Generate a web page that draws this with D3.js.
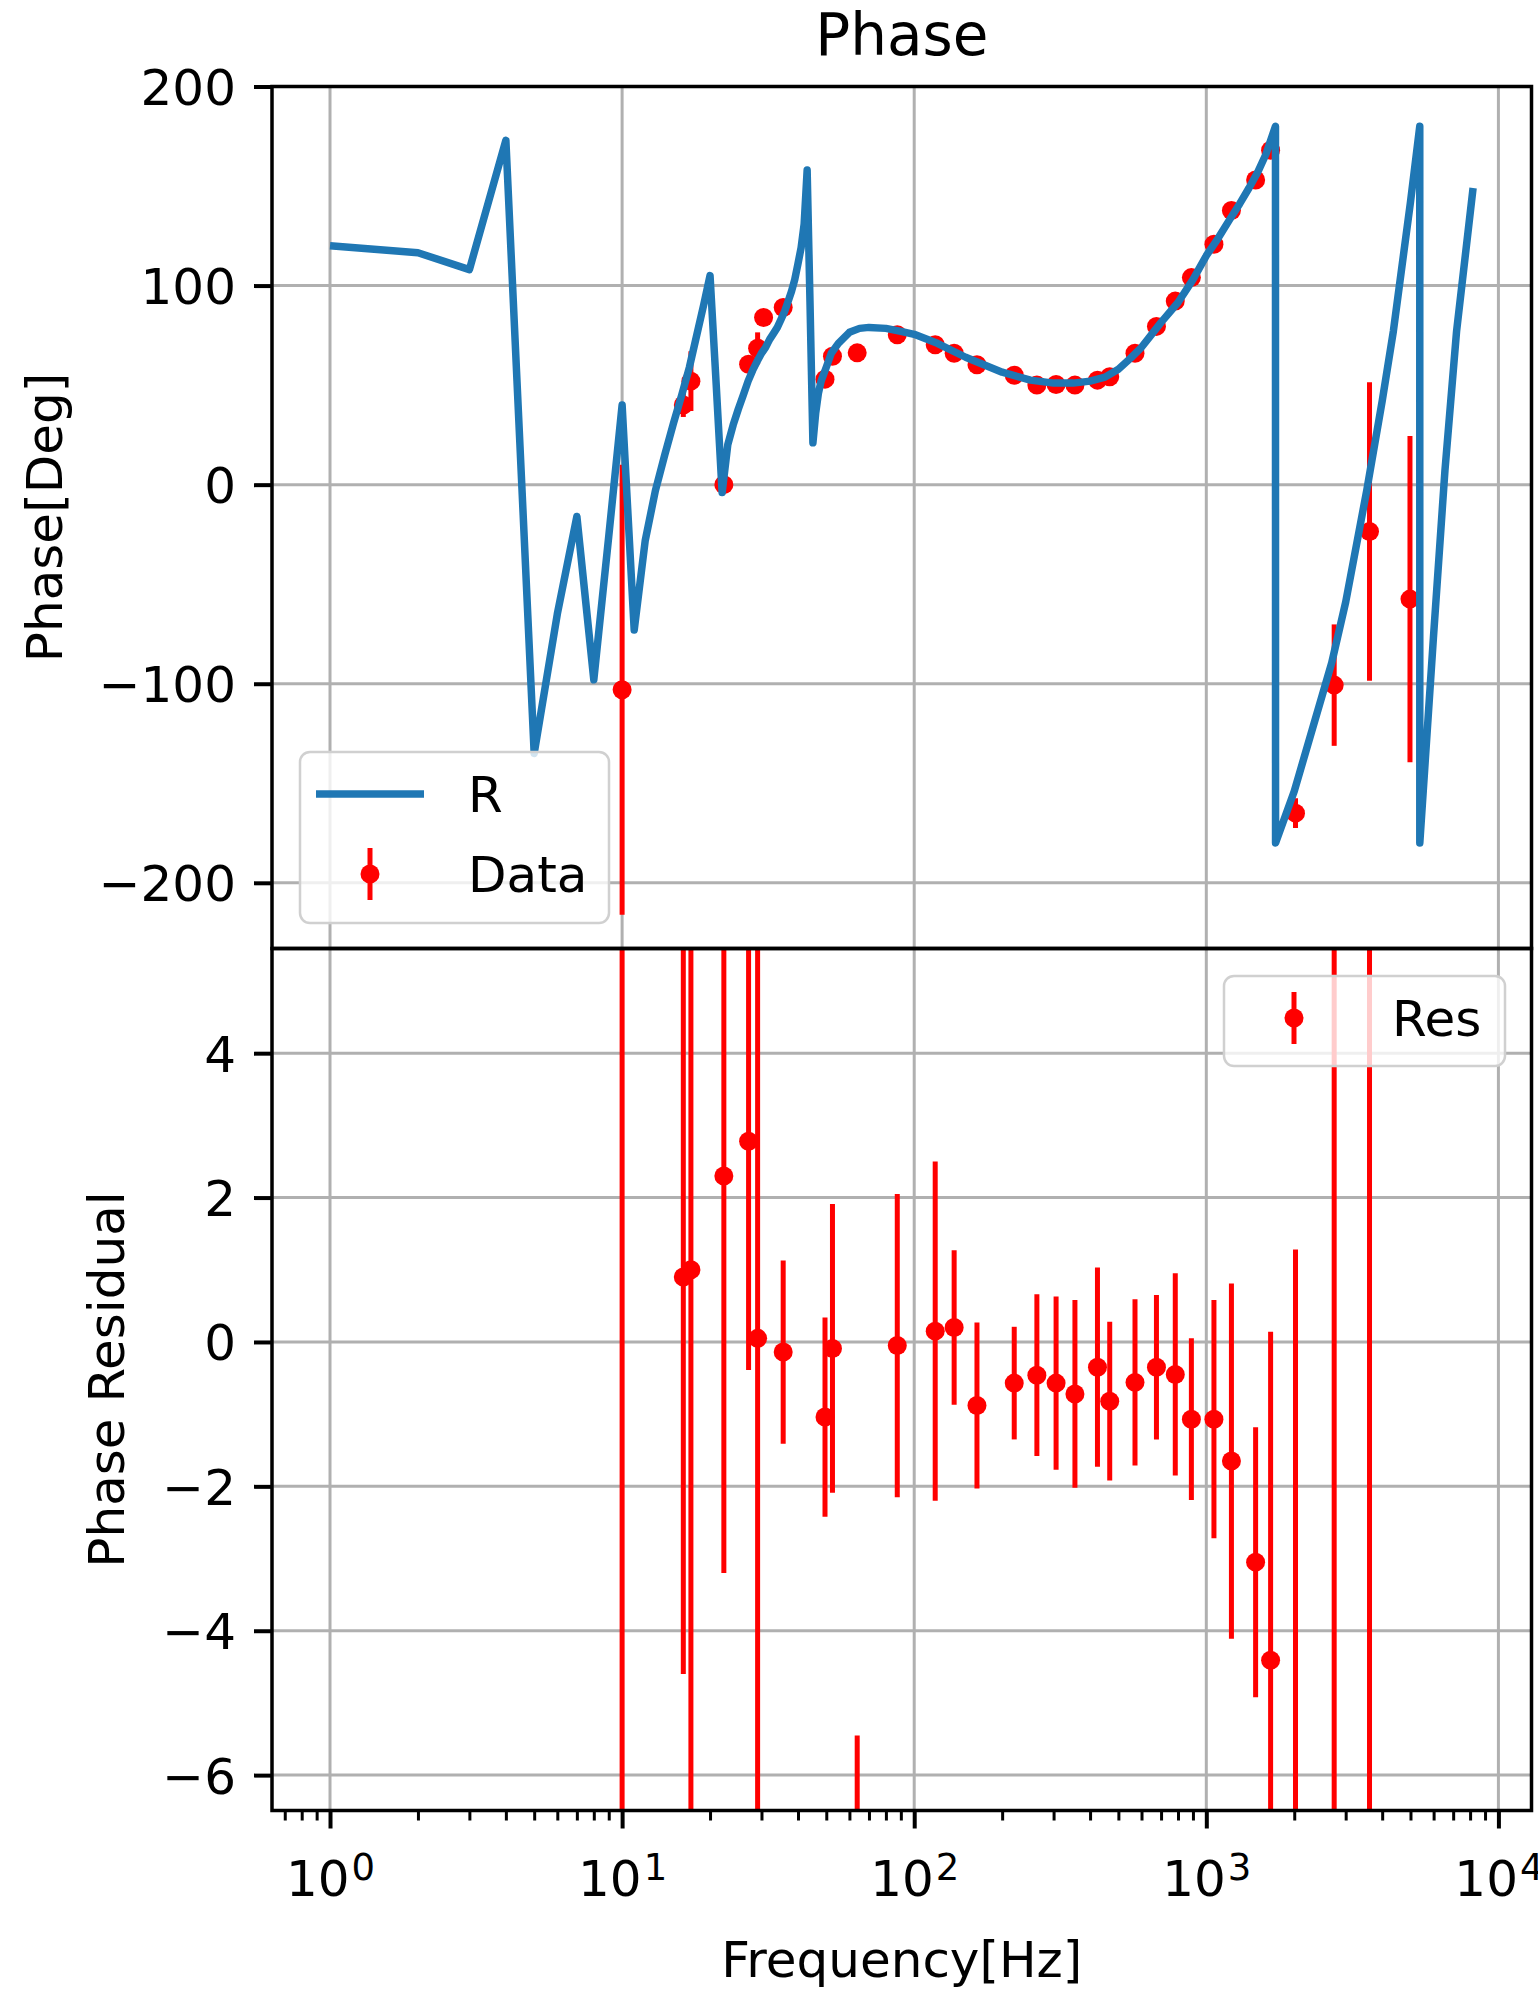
<!DOCTYPE html>
<html>
<head>
<meta charset="utf-8">
<script src="https://cdn.jsdelivr.net/npm/d3@7"></script>
<style>
    body { margin: 0; background: #fff; }
    svg text { font-family: "DejaVu Sans", sans-serif; }
</style>
</head>
<body>
<div id="phase-chart"></div>
<script>

// model curve "R" (frequency in Hz, phase in deg)
const modelFreq = [1, 2, 3, 4, 5, 6, 7, 8, 9, 10, 11, 12, 13, 14, 15, 16, 17, 18, 19, 20,
    21, 22, 23, 24, 25, 26, 27, 28, 29, 30, 31, 32, 33, 34, 35, 36, 37, 38, 39, 40,
    41, 42, 43, 44, 45, 46, 47, 48, 50, 52, 55, 60, 65, 70, 80, 90, 100, 120, 150, 200,
    250, 300, 350, 400, 450, 500, 550, 600, 650, 700, 800, 900, 1000, 1100, 1200, 1300,
    1400, 1500, 1600, 1725, 1726, 2000, 2687, 3000, 3541, 4000, 4368, 5000, 5380, 5381,
    5990, 6560, 7190, 8190];
const modelPhase = [120, 116.5, 108, 173, -135, -65, -16, -98, -26, 40, -73, -28, -3, 15, 31, 45, 59, 75, 90, 105,
    50, -4, 20, 30, 38, 45, 52, 57.5, 62, 66, 69, 73, 76, 79, 83, 87, 92, 97, 103, 111,
    119, 131, 158, 90, 21, 36, 46, 52, 59, 66, 71, 76.5, 78.5, 79, 78.5, 77, 75.5, 71, 64, 56.5,
    52.5, 51, 51, 52, 54, 58, 63.5, 69, 75.5, 81.5, 91.5, 103, 115, 124, 133, 141,
    149, 157, 166, 180, -180, -154, -89.5, -59, -3, 42, 77, 142, 180, -180,
    -77, 7, 77, 149];

// measured points (shared by both panels)
const dataFreq = [10, 16.2, 17.2, 22.3, 27.1, 29.1, 30.5, 35.6, 49.5, 52.5, 63.8, 87.5, 118, 137, 164,
    220, 263, 306, 355, 424, 467, 570, 675, 783, 889, 1062, 1219, 1475, 1660, 2020, 2740, 3620, 4980];
const dataPhase = [-103, 40, 52, 0, 60.5, 68.5, 84, 89, 53, 64.5, 66.2, 75.3, 70.3, 66, 60.2,
    55, 50, 50.3, 50, 52.5, 54.2, 66, 79.5, 92.2, 104, 120.8, 137.7, 153, 168, -165, -100.7, -23.5, -57.5];
const dataErr = [113, 6, 15, 2, 3, 8, 3, 2, 2, 2, 1.5, 1, 1, 1, 1,
    1, 1, 1, 1, 1, 1, 1, 1, 1.5, 1.5, 2, 2, 2, 2.5, 7.5, 30.5, 75, 82];

// residuals
const resValue = [-30, 0.9, 1.0, 2.3, 2.78, 0.05, 12, -0.14, -1.04, -0.09, -9.5, -0.05, 0.15, 0.2, -0.88,
    -0.57, -0.46, -0.57, -0.72, -0.35, -0.82, -0.56, -0.35, -0.45, -1.07, -1.07, -1.65, -3.05, -4.41, -12, -15, 10, 30];
const resErr = [45, 5.5, 9, 5.5, 3.17, 9, 3, 1.27, 1.38, 2.0, 4.05, 2.1, 2.35, 1.07, 1.15,
    0.78, 1.12, 1.2, 1.3, 1.38, 1.1, 1.15, 1.0, 1.4, 1.12, 1.65, 2.46, 1.87, 4.55, 13.28, 30, 30, 8];

const phaseTicks = [200, 100, 0, -100, -200];
const resTicks = [4, 2, 0, -2, -4, -6];
const decadeTicks = [1, 10, 100, 1000, 10000];

const BLUE = '#1f77b4';
const RED = '#ff0000';


class PhaseChart {

    constructor(parentElement) {
        this.parentElement = parentElement;
        this.initVis();
    }

    initVis() {
        let vis = this;

        vis.box = {left: 272, right: 1531.5, top: 86.5, mid: 948.5, bottom: 1810.5};

        vis.svg = d3.select('#' + vis.parentElement).append('svg')
            .attr('width', 1538)
            .attr('height', 1994);

        // Scales (x shared by both panels)
        vis.x = d3.scaleLog()
            .domain([0.633, 12980])
            .range([vis.box.left, vis.box.right]);

        vis.yPhase = d3.scaleLinear()
            .domain([-233, 200])
            .range([vis.box.mid, vis.box.top]);

        vis.yRes = d3.scaleLinear()
            .domain([-6.49, 5.45])
            .range([vis.box.bottom, vis.box.mid]);

        let defs = vis.svg.append('defs');
        defs.append('clipPath').attr('id', 'clip-top').append('rect')
            .attr('x', vis.box.left).attr('y', vis.box.top)
            .attr('width', vis.box.right - vis.box.left)
            .attr('height', vis.box.mid - vis.box.top);
        defs.append('clipPath').attr('id', 'clip-bot').append('rect')
            .attr('x', vis.box.left).attr('y', vis.box.mid)
            .attr('width', vis.box.right - vis.box.left)
            .attr('height', vis.box.bottom - vis.box.mid);

        vis.minorTicks = [];
        [0.1, 1, 10, 100, 1000].forEach(base => {
            for (let k = 2; k <= 9; k++) {
                let v = base * k;
                if (v > vis.x.domain()[0] && v < vis.x.domain()[1]) vis.minorTicks.push(v);
            }
        });

        vis.updateVis();
    }

    fmt(d) {
        return d < 0 ? '\u2212' + Math.abs(d) : String(d);
    }

    drawGrid(y, ticks, top, bottom) {
        let vis = this;
        let g = vis.svg.append('g').attr('class', 'grid');
        g.selectAll('.vgrid')
            .data(decadeTicks.filter(d => d >= vis.x.domain()[0] && d <= vis.x.domain()[1]))
            .enter().append('line')
            .attr('x1', d => vis.x(d)).attr('x2', d => vis.x(d))
            .attr('y1', top).attr('y2', bottom)
            .attr('stroke', '#b0b0b0').attr('stroke-width', 3);
        g.selectAll('.hgrid')
            .data(ticks)
            .enter().append('line')
            .attr('x1', vis.box.left).attr('x2', vis.box.right)
            .attr('y1', d => y(d)).attr('y2', d => y(d))
            .attr('stroke', '#b0b0b0').attr('stroke-width', 3);
    }

    drawErrorbars(y, values, errs, clipId) {
        let vis = this;
        let rows = dataFreq.map((f, i) => ({f: f, v: values[i], e: errs[i]}));
        let g = vis.svg.append('g').attr('clip-path', 'url(#' + clipId + ')');

        g.selectAll('.ebar')
            .data(rows)
            .enter().append('line')
            .attr('class', 'ebar')
            .attr('x1', d => vis.x(d.f)).attr('x2', d => vis.x(d.f))
            .attr('y1', d => y(d.v - d.e)).attr('y2', d => y(d.v + d.e))
            .attr('stroke', RED).attr('stroke-width', 5);

        g.selectAll('.dot')
            .data(rows)
            .enter().append('circle')
            .attr('class', 'dot')
            .attr('cx', d => vis.x(d.f))
            .attr('cy', d => y(d.v))
            .attr('r', 9.5)
            .attr('fill', RED);
    }

    drawYAxis(y, ticks) {
        let vis = this;
        let axis = d3.axisLeft(y)
            .tickValues(ticks)
            .tickSize(18)
            .tickPadding(18)
            .tickFormat(d => vis.fmt(d));
        let g = vis.svg.append('g')
            .attr('transform', 'translate(' + vis.box.left + ',0)')
            .call(axis);
        g.select('.domain').remove();
        g.selectAll('.tick line').attr('stroke', '#000').attr('stroke-width', 4);
        g.selectAll('.tick text')
            .attr('fill', '#000')
            .attr('font-size', 50)
            .attr('font-family', '"DejaVu Sans", sans-serif')
            .attr('dy', '0.36em');
    }

    drawFrame(top, bottom) {
        let vis = this;
        vis.svg.append('rect')
            .attr('x', vis.box.left).attr('y', top)
            .attr('width', vis.box.right - vis.box.left)
            .attr('height', bottom - top)
            .attr('fill', 'none')
            .attr('stroke', '#000')
            .attr('stroke-width', 3.5);
    }

    drawLegend(x0, y0, w, h, entries) {
        let vis = this;
        let g = vis.svg.append('g').attr('class', 'legend');
        g.append('rect')
            .attr('x', x0).attr('y', y0)
            .attr('width', w).attr('height', h)
            .attr('rx', 10).attr('ry', 10)
            .attr('fill', '#fff').attr('fill-opacity', 0.8)
            .attr('stroke', '#d0d0d0').attr('stroke-width', 2.5);

        entries.forEach((e, i) => {
            let cy = y0 + 42 + i * 80;
            if (e.type === 'line') {
                g.append('line')
                    .attr('x1', x0 + 16).attr('x2', x0 + 124)
                    .attr('y1', cy).attr('y2', cy)
                    .attr('stroke', BLUE).attr('stroke-width', 7.5);
            } else {
                g.append('line')
                    .attr('x1', x0 + 70).attr('x2', x0 + 70)
                    .attr('y1', cy - 26).attr('y2', cy + 26)
                    .attr('stroke', RED).attr('stroke-width', 5);
                g.append('circle')
                    .attr('cx', x0 + 70).attr('cy', cy)
                    .attr('r', 9.5).attr('fill', RED);
            }
            g.append('text')
                .attr('x', x0 + 168).attr('y', cy + 18)
                .attr('font-size', 50)
                .attr('fill', '#000')
                .text(e.label);
        });
    }

    updateVis() {
        let vis = this;
        let b = vis.box;

        // Grids
        vis.drawGrid(vis.yPhase, phaseTicks, b.top, b.mid);
        vis.drawGrid(vis.yRes, resTicks, b.mid, b.bottom);

        // Upper panel: data with error bars, then the model line on top
        vis.drawErrorbars(vis.yPhase, dataPhase, dataErr, 'clip-top');

        let line = d3.line()
            .x(d => vis.x(d[0]))
            .y(d => vis.yPhase(d[1]));

        vis.svg.append('path')
            .datum(modelFreq.map((f, i) => [f, modelPhase[i]]))
            .attr('clip-path', 'url(#clip-top)')
            .attr('d', line)
            .attr('fill', 'none')
            .attr('stroke', BLUE)
            .attr('stroke-width', 7.5)
            .attr('stroke-linejoin', 'round');

        // Lower panel: residuals
        vis.drawErrorbars(vis.yRes, resValue, resErr, 'clip-bot');

        // Axes
        vis.drawYAxis(vis.yPhase, phaseTicks);
        vis.drawYAxis(vis.yRes, resTicks);

        let xMajor = d3.axisBottom(vis.x)
            .tickValues(decadeTicks)
            .tickSize(18)
            .tickFormat('');
        let gx = vis.svg.append('g')
            .attr('transform', 'translate(0,' + b.bottom + ')')
            .call(xMajor);
        gx.select('.domain').remove();
        gx.selectAll('.tick line').attr('stroke', '#000').attr('stroke-width', 4);
        gx.selectAll('.tick text')
            .attr('y', 85.5)
            .attr('dy', null)
            .attr('fill', '#000')
            .attr('font-size', 50)
            .attr('font-family', '"DejaVu Sans", sans-serif')
            .attr('text-anchor', 'middle')
            .each(function (d) {
                let t = d3.select(this);
                t.append('tspan').text('10');
                t.append('tspan')
                    .attr('dx', 2)
                    .attr('dy', -16)
                    .attr('font-size', 37)
                    .text(Math.round(Math.log10(d)));
            });

        let xMinor = d3.axisBottom(vis.x)
            .tickValues(vis.minorTicks)
            .tickSize(10)
            .tickFormat('');
        let gm = vis.svg.append('g')
            .attr('transform', 'translate(0,' + b.bottom + ')')
            .call(xMinor);
        gm.select('.domain').remove();
        gm.selectAll('.tick text').remove();
        gm.selectAll('.tick line').attr('stroke', '#000').attr('stroke-width', 3);

        // Frames
        vis.drawFrame(b.top, b.mid);
        vis.drawFrame(b.mid, b.bottom);

        // Titles and axis labels
        let cx = (b.left + b.right) / 2;
        vis.svg.append('text')
            .attr('x', cx).attr('y', 55)
            .attr('text-anchor', 'middle')
            .attr('font-size', 58)
            .text('Phase');

        vis.svg.append('text')
            .attr('transform', 'translate(62,' + (b.top + b.mid) / 2 + ') rotate(-90)')
            .attr('text-anchor', 'middle')
            .attr('font-size', 50)
            .text('Phase[Deg]');

        vis.svg.append('text')
            .attr('transform', 'translate(124,' + (b.mid + b.bottom) / 2 + ') rotate(-90)')
            .attr('text-anchor', 'middle')
            .attr('font-size', 50)
            .text('Phase Residual');

        vis.svg.append('text')
            .attr('x', cx).attr('y', 1977)
            .attr('text-anchor', 'middle')
            .attr('font-size', 50)
            .text('Frequency[Hz]');

        // Legends
        vis.drawLegend(300, 752, 309, 171, [
            {type: 'line', label: 'R'},
            {type: 'err', label: 'Data'}
        ]);
        vis.drawLegend(1224, 976, 281, 90, [
            {type: 'err', label: 'Res'}
        ]);
    }
}

let phaseChart = new PhaseChart('phase-chart');

</script>
</body>
</html>
